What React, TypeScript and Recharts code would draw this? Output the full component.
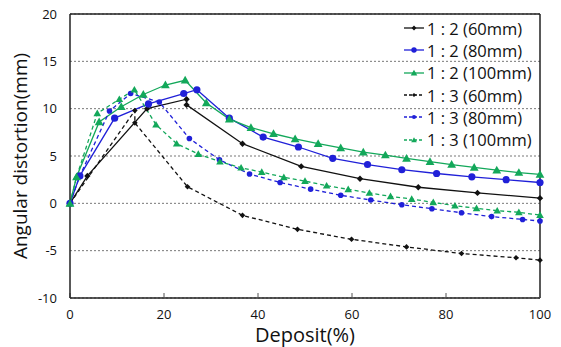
import { LineChart, Line, XAxis, YAxis, CartesianGrid, ReferenceLine, Legend } from "recharts";

// 1 : 2 (60mm)
const deposit12_60 = [0, 3.7, 16.4, 24.8, 24.8, 36.7, 49.2, 61.7, 74.1, 86.7, 100];
const distortion12_60 = [0, 2.9, 10.0, 11.0, 10.4, 6.3, 3.9, 2.6, 1.7, 1.1, 0.55];

// 1 : 2 (80mm)
const deposit12_80 = [0, 2.1, 9.5, 16.7, 24.2, 27, 33.9, 41.1, 48.6, 55.9, 63.3, 70.6, 78, 85.5, 92.8, 100];
const distortion12_80 = [0, 2.9, 9.0, 10.5, 11.6, 12.0, 9.0, 7.0, 5.95, 4.75, 4.1, 3.55, 3.15, 2.8, 2.5, 2.2];

// 1 : 2 (100mm)
const deposit12_100 = [0, 1.4, 6.2, 10.9, 15.6, 20.3, 24.5, 29, 33.9, 38.5, 43.3, 47.9, 52.8, 57.6, 62.4, 67.1, 71.6, 76.6, 81.2, 86, 90.8, 95.5, 100];
const distortion12_100 = [0, 2.8, 8.6, 10.2, 11.5, 12.5, 13.0, 10.6, 8.9, 8.0, 7.35, 6.8, 6.3, 5.85, 5.4, 5.1, 4.75, 4.4, 4.1, 3.8, 3.5, 3.25, 3.05];

// 1 : 3 (60mm)
const deposit13_60 = [0, 13.8, 13.8, 25, 36.7, 48.4, 59.9, 71.6, 83.3, 94.9, 100];
const distortion13_60 = [0, 9.8, 8.5, 1.75, -1.27, -2.75, -3.8, -4.6, -5.3, -5.75, -6.0];

// 1 : 3 (80mm)
const deposit13_80 = [0, 2.1, 8.4, 12.9, 19, 25.4, 31.8, 38.2, 44.7, 51.2, 57.6, 64, 70.6, 77, 83.3, 89.7, 96.3, 100];
const distortion13_80 = [0, 2.9, 9.75, 11.6, 10.7, 6.85, 4.6, 3.1, 2.2, 1.5, 0.85, 0.35, -0.15, -0.57, -1.0, -1.4, -1.7, -1.87];

// 1 : 3 (100mm)
const deposit13_100 = [0, 1.4, 5.8, 10.5, 13.7, 18.3, 22.7, 27.3, 31.9, 36.4, 40.8, 45.5, 50, 54.6, 59.2, 63.7, 68.2, 72.7, 77.3, 81.9, 86.5, 90.9, 95.5, 100];
const distortion13_100 = [0, 2.8, 9.5, 11.0, 12.0, 8.3, 6.3, 5.2, 4.4, 3.76, 3.3, 2.75, 2.35, 1.86, 1.48, 1.09, 0.74, 0.45, 0.1, -0.25, -0.53, -0.78, -0.95, -1.24];

const xTicks = [0, 20, 40, 60, 80, 100];
const yTicks = [-10, -5, 0, 5, 10, 15, 20];

const BLACK = "#111111";
const BLUE = "#2020d8";
const GREEN = "#13a85a";
const FONT = "'Open Sans', 'Noto Sans', sans-serif";

type Shape = "diamond" | "circle" | "triangle";

interface Series {
  name: string;
  xs: number[];
  ys: number[];
  color: string;
  dashed: boolean;
  shape: Shape;
  size: number;
}

const series: Series[] = [
  { name: "1 : 2 (60mm)", xs: deposit12_60, ys: distortion12_60, color: BLACK, dashed: false, shape: "diamond", size: 3.2 },
  { name: "1 : 2 (80mm)", xs: deposit12_80, ys: distortion12_80, color: BLUE, dashed: false, shape: "circle", size: 3.6 },
  { name: "1 : 2 (100mm)", xs: deposit12_100, ys: distortion12_100, color: GREEN, dashed: false, shape: "triangle", size: 4.4 },
  { name: "1 : 3 (60mm)", xs: deposit13_60, ys: distortion13_60, color: BLACK, dashed: true, shape: "diamond", size: 2.8 },
  { name: "1 : 3 (80mm)", xs: deposit13_80, ys: distortion13_80, color: BLUE, dashed: true, shape: "circle", size: 2.8 },
  { name: "1 : 3 (100mm)", xs: deposit13_100, ys: distortion13_100, color: GREEN, dashed: true, shape: "triangle", size: 3.8 },
];

function Marker({ cx, cy, shape, size, color }: { cx: number; cy: number; shape: Shape; size: number; color: string }) {
  if (shape === "circle") return <circle cx={cx} cy={cy} r={size} fill={color} />;
  if (shape === "diamond") {
    const s = size;
    return <path d={`M${cx},${cy - s}L${cx + s},${cy}L${cx},${cy + s}L${cx - s},${cy}Z`} fill={color} />;
  }
  const s = size;
  return <path d={`M${cx},${cy - s}L${cx + s},${cy + s * 0.75}L${cx - s},${cy + s * 0.75}Z`} fill={color} />;
}

function LegendBox() {
  return (
    <div style={{ fontFamily: FONT, fontSize: 16.5, color: "#111" }}>
      {series.map((s) => (
        <div key={s.name} style={{ display: "flex", alignItems: "center", height: 22.3 }}>
          <svg width={22} height={12} style={{ marginRight: 2 }}>
            <line x1={1} y1={6} x2={21} y2={6} stroke={s.color} strokeWidth={1.3} strokeDasharray={s.dashed ? "3 2" : undefined} />
            <Marker cx={11} cy={6} shape={s.shape} size={s.size * 0.75} color={s.color} />
          </svg>
          <span>{s.name}</span>
        </div>
      ))}
    </div>
  );
}

export default function App() {
  return (
    <div style={{ position: "absolute", left: 0, top: 0, background: "#fff" }}>
      <LineChart width={561} height={347} margin={{ top: 14, right: 21, bottom: 0, left: 30 }}>
        <CartesianGrid vertical={false} stroke="#777" strokeDasharray="2 2" />
        <XAxis
          type="number"
          dataKey="x"
          domain={[0, 100]}
          ticks={xTicks}
          height={49}
          tickSize={-5}
          tickMargin={17}
          axisLine={{ stroke: "#222", strokeWidth: 1.5 }}
          tickLine={{ stroke: "#555" }}
          tick={{ fill: "#111", fontSize: 13, fontFamily: FONT }}
          allowDuplicatedCategory={false}
          label={{ value: "Deposit(%)", position: "insideBottom", offset: 5, fill: "#111", fontSize: 20, fontFamily: FONT }}
        />
        <YAxis
          type="number"
          domain={[-10, 20]}
          ticks={yTicks}
          width={40}
          tickLine={false}
          tickSize={0}
          tickMargin={13}
          axisLine={{ stroke: "#222", strokeWidth: 1.5 }}
          tick={{ fill: "#111", fontSize: 13, fontFamily: FONT }}
          label={{
            content: ({ viewBox }: any) => {
              const cx = viewBox.x - 10;
              const cy = viewBox.y + viewBox.height / 2;
              return (
                <text x={cx} y={cy} transform={`rotate(-90 ${cx} ${cy})`} textAnchor="middle" dominantBaseline="central" fill="#111" fontSize={19} fontFamily={FONT}>
                  Angular distortion(mm)
                </text>
              );
            },
          }}
        />
        <ReferenceLine y={20} stroke="#222" strokeWidth={1.5} />
        <ReferenceLine x={100} stroke="#222" strokeWidth={1.5} />
        <Legend
          layout="horizontal"
          verticalAlign="middle"
          align="center"
          content={() => <LegendBox />}
          wrapperStyle={{ left: 403, top: 17, width: 150 }}
        />
        {series.map((s) => {
          const data = s.xs.map((x, i) => ({ x, y: s.ys[i] }));
          return (
            <Line
              key={s.name}
              name={s.name}
              data={data}
              dataKey="y"
              type="linear"
              stroke={s.color}
              strokeWidth={1.3}
              strokeDasharray={s.dashed ? "4 3" : undefined}
              isAnimationActive={false}
              dot={(p: any) => (
                <Marker key={`${s.name}-${p.index}`} cx={p.cx} cy={p.cy} shape={s.shape} size={s.size} color={s.color} />
              )}
              activeDot={false}
            />
          );
        })}
      </LineChart>
    </div>
  );
}
